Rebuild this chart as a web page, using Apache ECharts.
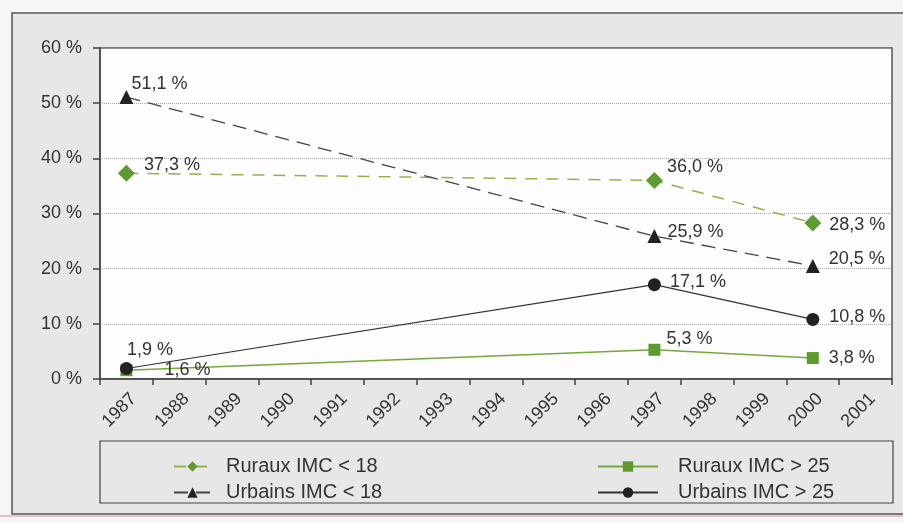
<!DOCTYPE html>
<html><head><meta charset="utf-8">
<script src="https://cdn.jsdelivr.net/npm/echarts@6/dist/echarts.min.js"></script>
<style>html,body{margin:0;padding:0;background:#f6f6f6;}#c{width:903px;height:523px;}</style>
</head><body><div id="c"></div>
<script>
const years = ['1987','1988','1989','1990','1991','1992','1993','1994','1995','1996','1997','1998','1999','2000','2001'];
const yTicks = [0, 10, 20, 30, 40, 50, 60];
const ruraux18 = [37.3, null, null, null, null, null, null, null, null, null, 36.0, null, null, 28.3, null];
const urbains18 = [51.1, null, null, null, null, null, null, null, null, null, 25.9, null, null, 20.5, null];
const ruraux25 = [1.6, null, null, null, null, null, null, null, null, null, 5.3, null, null, 3.8, null];
const urbains25 = [1.9, null, null, null, null, null, null, null, null, null, 17.1, null, null, 10.8, null];
const seriesNames = ['Ruraux IMC < 18', 'Urbains IMC < 18', 'Ruraux IMC > 25', 'Urbains IMC > 25'];

// label offsets (style only), indexed by category
const offR18 = {0: [4, -8], 10: [-1, -13], 13: [3, 2]};
const offU18 = {0: [-7, -13], 10: [1, -4], 13: [4, -7]};
const offR25 = {0: [27, 0], 10: [1, -11], 13: [5, 0]};
const offU25 = {0: [-11, -18], 10: [4, -3], 13: [5, -2]};

const FONT = 'Liberation Sans, Arial, sans-serif';
const fmt = v => v.toFixed(1).replace('.', ',') + ' %';
function build(values, offs) {
  return values.map((v, i) => v === null ? null : {value: v, label: {offset: offs[i] || [0, 0]}});
}
const GREEN = '#5d9b31';
const labelStyle = {show: true, position: 'right', distance: 5, fontFamily: FONT, fontSize: 18, color: '#333',
  formatter: p => fmt(p.value)};

const chart = echarts.init(document.getElementById('c'), null, {renderer: 'canvas'});
chart.setOption({
  animation: false,
  backgroundColor: '#f6f6f6',
  graphic: [
    {type: 'rect', z: -10, shape: {x: 12, y: 13, width: 900, height: 501}, style: {fill: '#e7e7e7', stroke: '#555', lineWidth: 1.5}},
    {type: 'line', z: -9, shape: {x1: 0, y1: 516, x2: 903, y2: 516}, style: {stroke: '#e9bfd6', lineWidth: 2}},
    {type: 'rect', z: -8, shape: {x: 100, y: 441, width: 793, height: 62}, style: {fill: 'none', stroke: '#444', lineWidth: 1.2}}
  ],
  grid: {left: 100, top: 48, right: 11, bottom: 144, show: true, backgroundColor: '#fdfdfd', borderColor: '#555', borderWidth: 1.5},
  legend: [
    {data: seriesNames.slice(0, 2), orient: 'vertical', left: 168, top: 451, itemWidth: 37, itemHeight: 13, itemGap: 5,
     textStyle: {fontFamily: FONT, fontSize: 20, color: '#333', lineHeight: 21, padding: [0, 0, 0, 10]}},
    {data: seriesNames.slice(2, 4), orient: 'vertical', left: 592, top: 451, itemWidth: 60, itemHeight: 13, itemGap: 5,
     textStyle: {fontFamily: FONT, fontSize: 20, color: '#333', lineHeight: 21, padding: [0, 0, 0, 15]}}
  ],
  xAxis: {
    type: 'category', data: years, boundaryGap: true,
    axisLine: {lineStyle: {color: '#444', width: 1.5}},
    axisTick: {show: true, interval: 0, length: 6, lineStyle: {color: '#444', width: 1.5}},
    axisLabel: {interval: 0, rotate: 45, fontFamily: FONT, fontSize: 18, color: '#333', margin: 10, verticalAlign: 'top', lineHeight: 20},
    splitLine: {show: false}
  },
  yAxis: {
    type: 'value', min: yTicks[0], max: yTicks[yTicks.length - 1], interval: 10,
    axisLine: {show: true, lineStyle: {color: '#444', width: 1.5}},
    axisTick: {show: true, inside: false, length: 7, lineStyle: {color: '#444', width: 1.5}},
    axisLabel: {fontFamily: FONT, fontSize: 18, color: '#333', margin: 18, formatter: v => v + ' %'},
    splitLine: {show: true, lineStyle: {color: '#aaa', type: 'dotted', width: 1}}
  },
  series: [
    {name: seriesNames[0], type: 'line', connectNulls: true, data: build(ruraux18, offR18),
     symbol: 'diamond', symbolSize: 17, itemStyle: {color: GREEN},
     lineStyle: {color: '#93b24e', width: 1.5, type: [12, 9]}, label: labelStyle, z: 3},
    {name: seriesNames[1], type: 'line', connectNulls: true, data: build(urbains18, offU18),
     symbol: 'triangle', symbolSize: 14, itemStyle: {color: '#222'},
     lineStyle: {color: '#444', width: 1.3, type: [14, 8]}, label: labelStyle, z: 3},
    {name: seriesNames[2], type: 'line', connectNulls: true, data: build(ruraux25, offR25),
     symbol: 'rect', symbolSize: 12, itemStyle: {color: GREEN},
     lineStyle: {color: '#77a83a', width: 1.5}, label: labelStyle, z: 4},
    {name: seriesNames[3], type: 'line', connectNulls: true, data: build(urbains25, offU25),
     symbol: 'circle', symbolSize: 13, itemStyle: {color: '#222'},
     lineStyle: {color: '#333', width: 1.2}, label: labelStyle, z: 5}
  ]
});
</script>
</body></html>
